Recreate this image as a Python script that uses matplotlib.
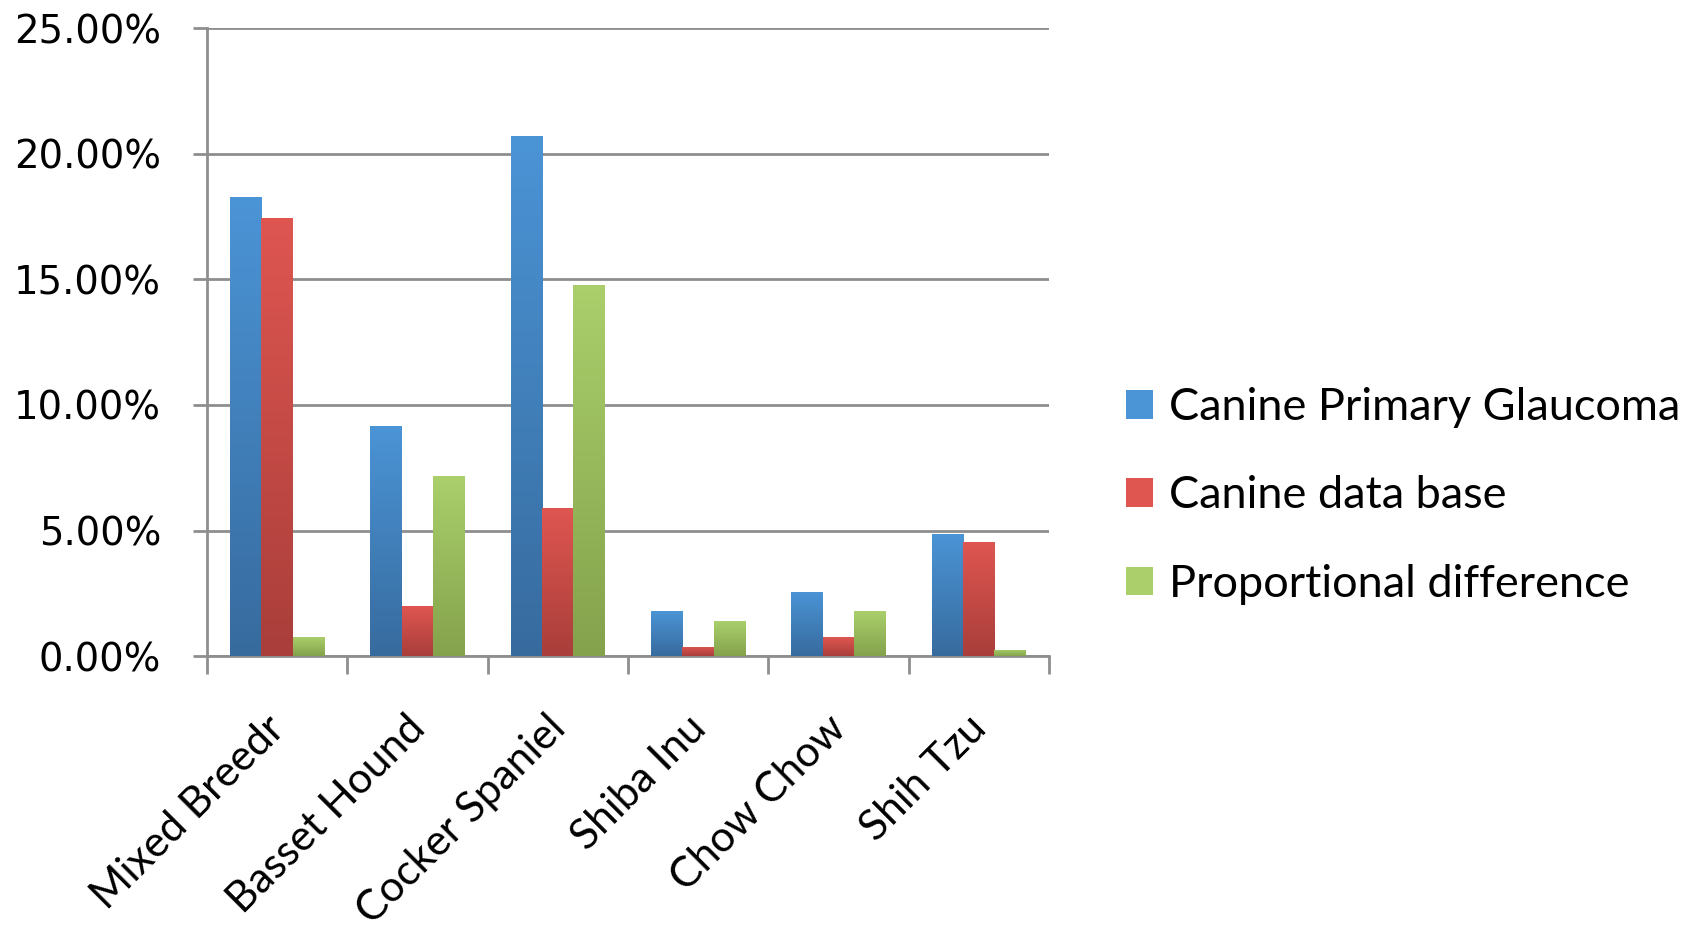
import numpy as np
import matplotlib
matplotlib.use("Agg")
import matplotlib.pyplot as plt
import matplotlib.transforms as mtransforms
from matplotlib.colors import LinearSegmentedColormap
from matplotlib.ticker import FuncFormatter, MultipleLocator

breeds = ["Mixed Breedr", "Basset Hound", "Cocker Spaniel", "Shiba Inu", "Chow Chow", "Shih Tzu"]
primary_glaucoma = [18.27, 9.15, 20.69, 1.78, 2.56, 4.88]
data_base = [17.46, 1.99, 5.90, 0.36, 0.75, 4.56]
prop_difference = [0.75, 7.16, 14.78, 1.39, 1.78, 0.25]
series_names = ["Canine Primary Glaucoma", "Canine data base", "Proportional difference"]

# light (top) -> dark (bottom) gradient per series, Excel 2007 style
shades = [("#4b94d6", "#376b9e"), ("#df5651", "#a93e3a"), ("#aacf6b", "#84a24c")]

fig = plt.figure(figsize=(16.87, 9.36), dpi=100)
ax = fig.add_axes([0.1227, 0.299, 0.499, 0.671])

x = np.arange(len(breeds))
width = 0.224
for i, (vals, name, (top, bot)) in enumerate(zip([primary_glaucoma, data_base, prop_difference], series_names, shades)):
    bars = ax.bar(x + (i - 1) * width, vals, width, color=top, label=name, zorder=3)
    cmap = LinearSegmentedColormap.from_list(name, [bot, top])
    grad = np.linspace(0, 1, 256).reshape(-1, 1)
    for b in bars:
        x0, y0 = b.get_x(), b.get_y()
        img = ax.imshow(grad, cmap=cmap, origin="lower", aspect="auto",
                        extent=[x0, x0 + b.get_width(), y0, y0 + b.get_height()], zorder=3.5)
        img.set_clip_path(b)

ax.set_xlim(-0.5, len(breeds) - 0.5)
ax.set_ylim(0, 25)
ax.yaxis.set_major_locator(MultipleLocator(5))
ax.yaxis.set_major_formatter(FuncFormatter(lambda v, p: f"{v:.2f}%"))
ax.grid(axis="y", color="#8e8e8e", linewidth=2.0, zorder=0)

ax.set_xticks(np.arange(len(breeds) + 1) - 0.5)
ax.set_xticklabels([])
ax.set_xticks(x, minor=True)
ax.set_xticklabels(breeds, minor=True, rotation=45, ha="right", va="top",
                   rotation_mode="anchor", fontsize=30.5, family="Lato")
ax.tick_params(axis="x", which="minor", length=0, pad=38)
ax.tick_params(axis="x", which="major", length=13, width=2, color="#8e8e8e")
ax.tick_params(axis="y", length=10, width=2, color="#8e8e8e", labelsize=27.8, pad=23)

# nudge the rotated names a bit left, like Excel places them
shift = mtransforms.ScaledTranslation(-0.12, 0, fig.dpi_scale_trans)
for lbl in ax.get_xticklabels(minor=True):
    lbl.set_transform(lbl.get_transform() + shift)

for s in ["top", "right"]:
    ax.spines[s].set_visible(False)
for s in ["left", "bottom"]:
    ax.spines[s].set_color("#8e8e8e")
    ax.spines[s].set_linewidth(2)

leg = ax.legend(loc="center left", bbox_to_anchor=(1.07, 0.255), frameon=False,
                prop={"family": "Lato", "size": 32.5}, handlelength=0.6, handleheight=0.6,
                handletextpad=0.35, labelspacing=1.05, borderaxespad=0)

fig.savefig("out.png", dpi=100)
